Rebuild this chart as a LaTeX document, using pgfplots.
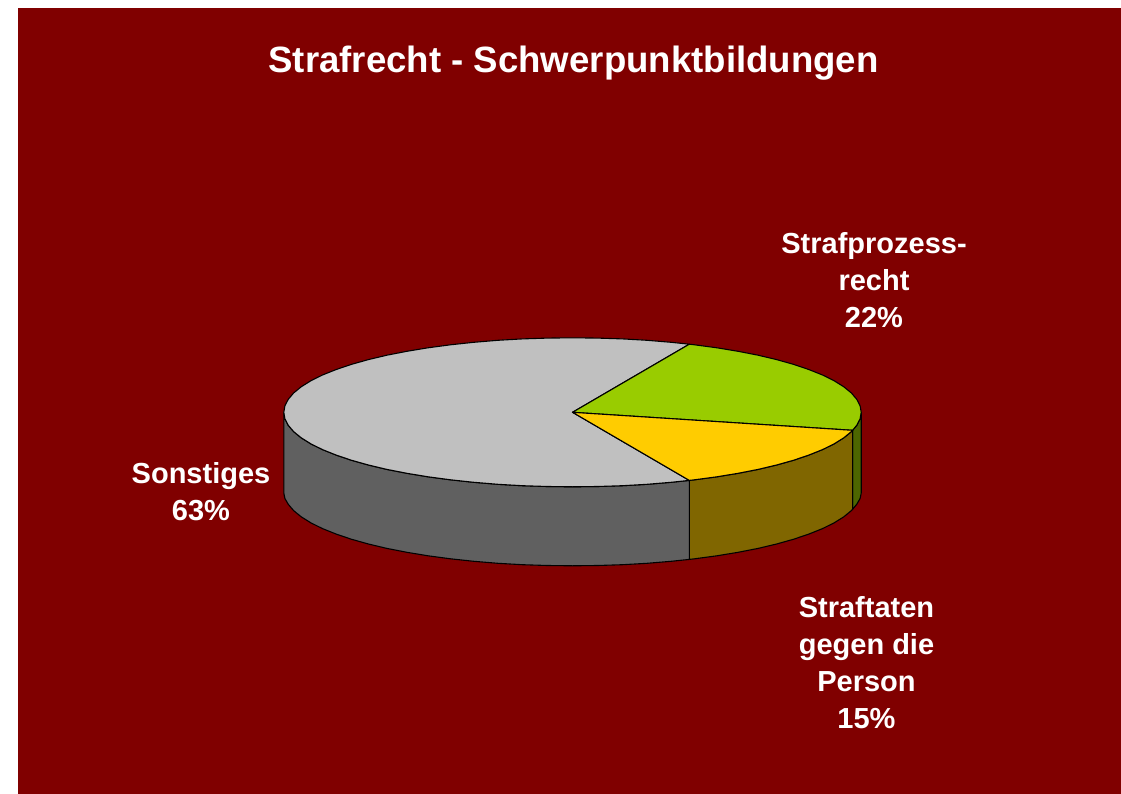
\documentclass[border=0pt]{standalone}
\usepackage{fontspec}
\setmainfont{Liberation Sans}
\usepackage{pgfplots}
\pgfplotsset{compat=1.18}
\definecolor{panel}{HTML}{800000}
\definecolor{gtop}{HTML}{C0C0C0}
\definecolor{gside}{HTML}{606060}
\definecolor{ltop}{HTML}{99CC00}
\definecolor{lside}{HTML}{4D6600}
\definecolor{ytop}{HTML}{FFCC00}
\definecolor{yside}{HTML}{806600}
\begin{document}
\begin{tikzpicture}
\begin{axis}[
  scale only axis, width=1121pt, height=794pt,
  xmin=0, xmax=1121, ymin=0, ymax=794, y dir=reverse,
  axis lines=none, clip=true,
  every axis plot/.append style={line width=1.1pt, line join=round},
]
% page and panel
\addplot[fill=white, draw=none] coordinates {(0,0)(1121,0)(1121,794)(0,794)} --cycle;
\addplot[fill=panel, draw=none] coordinates {(18,8)(1121,8)(1121,794)(18,794)} --cycle;
% side walls
\addplot[fill=lside, draw=black] coordinates {(861.2,412.3)(860.1,418.8)(856.8,425.2)(852.6,430.3)(852.6,509.3)(856.8,504.2)(860.1,498.5)(861.2,493)} --cycle;
\addplot[fill=yside, draw=black] coordinates {(852.6,430.3)(851.4,431.6)(843.8,437.8)(834.2,443.8)(822.5,449.6)(809.0,455.0)(793.7,460.2)(776.6,465.0)(758.1,469.4)(738.1,473.3)(716.9,476.8)(694.5,479.8)(689.3,480.4)(689.3,559.4)(694.5,558.8)(716.9,555.8)(738.1,552.3)(758.1,548.4)(776.6,544.0)(793.7,539.2)(809.0,534.0)(822.5,528.6)(834.2,522.8)(843.8,516.8)(851.4,510.6)(852.6,509.3)} --cycle;
\addplot[fill=gside, draw=black] coordinates {(689.3,480.4)(671.2,482.3)(647.2,484.3)(622.6,485.7)(597.7,486.5)(572.5,486.8)(547.3,486.5)(522.4,485.7)(497.8,484.3)(473.8,482.3)(450.5,479.8)(428.1,476.8)(406.9,473.3)(386.9,469.4)(368.4,465.0)(351.3,460.2)(336.0,455.0)(322.5,449.6)(310.8,443.8)(301.2,437.8)(293.6,431.6)(288.2,425.2)(284.9,418.8)(283.8,412.3)(283.8,493)(284.9,498.5)(288.2,504.2)(293.6,510.6)(301.2,516.8)(310.8,522.8)(322.5,528.6)(336.0,534.0)(351.3,539.2)(368.4,544.0)(386.9,548.4)(406.9,552.3)(428.1,555.8)(450.5,558.8)(473.8,561.3)(497.8,563.3)(522.4,564.7)(547.3,565.5)(572.5,565.8)(597.7,565.5)(622.6,564.7)(647.2,563.3)(671.2,561.3)(689.3,559.4)} --cycle;
% top faces
\addplot[fill=gtop, draw=black] coordinates {(572.5,412.3)(689.3,480.4)(671.2,482.3)(647.2,484.3)(622.6,485.7)(597.7,486.5)(572.5,486.8)(547.3,486.5)(522.4,485.7)(497.8,484.3)(473.8,482.3)(450.5,479.8)(428.1,476.8)(406.9,473.3)(386.9,469.4)(368.4,465.0)(351.3,460.2)(336.0,455.0)(322.5,449.6)(310.8,443.8)(301.2,437.8)(293.6,431.6)(288.2,425.2)(284.9,418.8)(283.8,412.3)(284.9,405.8)(288.2,399.4)(293.6,393.0)(301.2,386.8)(310.8,380.8)(322.5,375.0)(336.0,369.6)(351.3,364.4)(368.4,359.6)(386.9,355.2)(406.9,351.3)(428.1,347.8)(450.5,344.8)(473.8,342.3)(497.8,340.3)(522.4,338.9)(547.3,338.1)(572.5,337.8)(597.7,338.1)(622.6,338.9)(647.2,340.3)(671.2,342.3)(689.3,344.2)} --cycle;
\addplot[fill=ltop, draw=black] coordinates {(572.5,412.3)(689.3,344.2)(694.5,344.8)(716.9,347.8)(738.1,351.3)(758.1,355.2)(776.6,359.6)(793.7,364.4)(809.0,369.6)(822.5,375.0)(834.2,380.8)(843.8,386.8)(851.4,393.0)(856.8,399.4)(860.1,405.8)(861.2,412.3)(860.1,418.8)(856.8,425.2)(852.6,430.3)} --cycle;
\addplot[fill=ytop, draw=black] coordinates {(572.5,412.3)(852.6,430.3)(851.4,431.6)(843.8,437.8)(834.2,443.8)(822.5,449.6)(809.0,455.0)(793.7,460.2)(776.6,465.0)(758.1,469.4)(738.1,473.3)(716.9,476.8)(694.5,479.8)(689.3,480.4)} --cycle;
% text
\node[text=white, font=\fontsize{36.6}{40}\bfseries\selectfont] at (axis cs:573.5,63) {Strafrecht - Schwerpunktbildungen};
\node[text=white, align=center, font=\fontsize{29}{37}\bfseries\selectfont] at (axis cs:874,280) {Strafprozess-\\recht\\22\%};
\node[text=white, align=center, font=\fontsize{29}{37}\bfseries\selectfont] at (axis cs:866.5,663) {Straftaten\\gegen die\\Person\\15\%};
\node[text=white, align=center, font=\fontsize{29}{37}\bfseries\selectfont] at (axis cs:201,492) {Sonstiges\\63\%};
\end{axis}
\end{tikzpicture}
\end{document}
